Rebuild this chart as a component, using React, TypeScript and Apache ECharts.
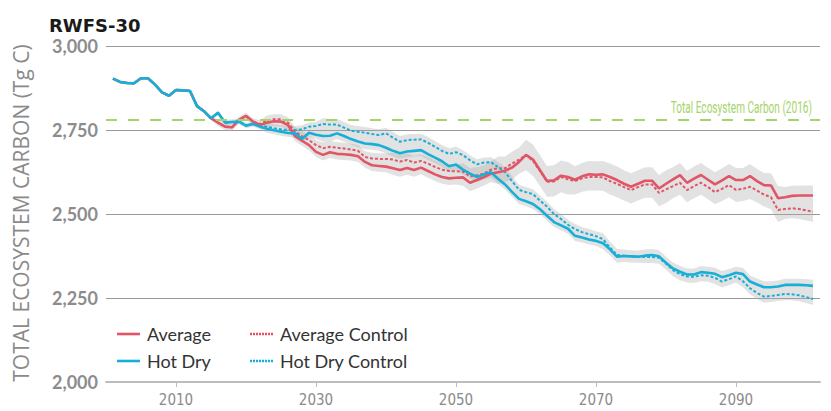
import React, { useEffect, useRef } from 'react';
import * as echarts from 'echarts';

// Years 2001 … 2101 (annual)
const years: number[] = Array.from({ length: 101 }, (_, i) => 2001 + i);

const yTicks = [2000, 2250, 2500, 2750, 3000];
const xTickLabels = [2010, 2030, 2050, 2070, 2090];
const referenceValue = 2780;
const referenceLabel = 'Total Ecosystem Carbon (2016)';

const hotDry = [
  2903, 2893, 2890, 2889, 2904, 2904, 2885, 2862, 2852, 2869,
  2868, 2866, 2821, 2806, 2785, 2801, 2772, 2774, 2775, 2763,
  2768, 2760, 2754, 2749, 2745, 2741, 2740, 2723, 2742, 2736,
  2732, 2733, 2740, 2732, 2723, 2716, 2710, 2708, 2705, 2697,
  2688, 2681, 2686, 2688, 2690, 2678, 2668, 2657, 2642, 2647,
  2632, 2620, 2610, 2618, 2624, 2605, 2588, 2566, 2545, 2538,
  2530, 2514, 2495, 2476, 2466, 2456, 2435, 2430, 2424, 2420,
  2413, 2395, 2373, 2375, 2374, 2373, 2376, 2378, 2374, 2355,
  2338, 2328, 2320, 2320, 2327, 2325, 2322, 2312, 2318, 2325,
  2321, 2299, 2290, 2282, 2282, 2284, 2289, 2289, 2289, 2288,
  2286,
];

const hotDryControl = [
  2903, 2893, 2890, 2889, 2904, 2904, 2885, 2862, 2852, 2869,
  2868, 2866, 2821, 2806, 2785, 2801, 2772, 2774, 2775, 2763,
  2768, 2762, 2760, 2755, 2752, 2750, 2750, 2752, 2760, 2762,
  2768, 2766, 2766, 2757, 2748, 2745, 2742, 2738, 2735, 2740,
  2727, 2715, 2720, 2721, 2722, 2712, 2700, 2688, 2679, 2684,
  2675, 2660, 2648, 2653, 2654, 2640, 2625, 2598, 2572, 2565,
  2559, 2540, 2522, 2500, 2485, 2468, 2455, 2446, 2440, 2434,
  2425, 2400, 2378, 2376, 2374, 2373, 2372, 2372, 2370, 2352,
  2333, 2321, 2314, 2313, 2318, 2316, 2310, 2299, 2306, 2314,
  2300, 2279, 2265, 2254, 2256, 2259, 2262, 2261, 2258, 2253,
  2247,
];

const average = [
  2903, 2893, 2890, 2889, 2904, 2904, 2885, 2862, 2852, 2869,
  2868, 2866, 2821, 2806, 2785, 2772, 2760, 2758, 2780, 2792,
  2775, 2765, 2772, 2776, 2775, 2765, 2732, 2718, 2705, 2685,
  2676, 2684, 2679, 2678, 2676, 2672, 2655, 2645, 2643, 2641,
  2636, 2631, 2637, 2631, 2638, 2628, 2618, 2610, 2606, 2608,
  2609, 2593, 2601, 2610, 2620, 2624, 2629, 2638, 2655, 2676,
  2662, 2630, 2598, 2600, 2614, 2610, 2602, 2612, 2618, 2617,
  2618, 2610, 2601, 2590, 2581, 2590, 2599, 2599, 2576, 2590,
  2603, 2616, 2593, 2605, 2616, 2602, 2588, 2600, 2613, 2601,
  2601, 2613, 2598, 2586, 2585, 2547, 2550, 2554, 2555, 2555,
  2555,
];

const averageControl = [
  2903, 2893, 2890, 2889, 2904, 2904, 2885, 2862, 2852, 2869,
  2868, 2866, 2821, 2806, 2785, 2772, 2760, 2758, 2780, 2792,
  2775, 2768, 2778, 2782, 2782, 2772, 2745, 2732, 2720, 2705,
  2696, 2700, 2697, 2695, 2692, 2688, 2670, 2665, 2664, 2664,
  2662, 2656, 2661, 2653, 2658, 2650, 2640, 2632, 2628, 2627,
  2626, 2612, 2615, 2620, 2632, 2636, 2636, 2650, 2662, 2675,
  2658, 2628, 2596, 2597, 2610, 2603, 2598, 2606, 2610, 2610,
  2609, 2598, 2590, 2580, 2571, 2580, 2588, 2588, 2563, 2573,
  2583, 2593, 2571, 2583, 2593, 2580, 2565, 2575, 2586, 2572,
  2575, 2581, 2570, 2558, 2550, 2512, 2515, 2517, 2515, 2511,
  2507,
];

// half-width of the grey uncertainty band beyond the pair of lines (Tg C)
const averageSpread = [
  4, 4, 4, 4, 4, 4, 4, 4, 4, 4,
  4, 4, 4, 4, 4, 10, 10, 10, 10, 10,
  10, 10, 15, 15, 15, 15, 15, 15, 15, 15,
  17, 17, 17, 17, 17, 17, 17, 17, 17, 17,
  20, 20, 20, 20, 20, 20, 20, 20, 20, 20,
  25, 25, 25, 25, 25, 35, 35, 35, 35, 45,
  45, 45, 45, 45, 45, 45, 40, 40, 40, 40,
  40, 40, 40, 40, 40, 40, 40, 40, 40, 40,
  36, 36, 36, 36, 36, 36, 36, 36, 36, 36,
  36, 36, 36, 36, 36, 36, 30, 30, 30, 30,
  30,
];

const hotDrySpread = [
  4, 4, 4, 4, 4, 4, 4, 4, 4, 4,
  4, 4, 4, 4, 4, 8, 8, 8, 8, 8,
  8, 8, 12, 12, 12, 12, 12, 12, 12, 12,
  17, 17, 17, 17, 17, 17, 17, 17, 17, 17,
  17, 17, 17, 17, 17, 17, 17, 17, 17, 17,
  15, 15, 15, 15, 15, 15, 15, 15, 15, 15,
  15, 15, 15, 15, 15, 15, 15, 15, 15, 15,
  18, 18, 18, 18, 18, 18, 18, 18, 18, 18,
  18, 18, 18, 18, 18, 18, 18, 18, 18, 18,
  18, 18, 18, 18, 18, 18, 18, 18, 18, 18,
  18,
];

const RED = '#e15566';
const BLUE = '#17afd8';
const GREEN = '#a5d46b';
const BAND = 'rgba(170,170,170,0.34)';

function pairs(vals: number[]) {
  return years.map((y, i) => [y, vals[i]]);
}

function bandSeries(name: string, a: number[], b: number[], spread: number[]) {
  const rows = years.map((y, i) => [
    y,
    Math.min(a[i], b[i]) - spread[i],
    Math.max(a[i], b[i]) + spread[i],
  ]);
  return {
    name,
    type: 'custom',
    silent: true,
    z: 1,
    data: rows,
    encode: { x: 0, y: [1, 2] },
    renderItem: (params: any, api: any) => {
      if (params.dataIndex !== 0) return null;
      const upper = rows.map((r) => api.coord([r[0], r[2]]));
      const lower = rows.map((r) => api.coord([r[0], r[1]])).reverse();
      return {
        type: 'polygon',
        shape: { points: upper.concat(lower) },
        style: { fill: BAND, stroke: 'none' },
      };
    },
  };
}

const solidIcon = 'path://M0,0H23V2.6H0Z';
let dotted = 'path://';
for (let k = 0; k < 8; k++) dotted += `M${k * 3},0h2v2.6h-2Z `;
const dottedIcon = dotted.trim();

export default function App() {
  const ref = useRef<HTMLDivElement>(null);
  useEffect(() => {
    const chart = echarts.init(ref.current!, null, { renderer: 'svg' });
    const legendText = {
      fontFamily: 'Lato',
      fontSize: 18,
      color: '#333',
      lineHeight: 18,
      padding: [0, 0, 0, 2],
    };
    const legendCommon = {
      orient: 'vertical',
      top: 320,
      itemWidth: 23,
      itemHeight: 2.6,
      itemGap: 9,
      textStyle: legendText,
    };
    const option: any = {
      animation: false,
      title: {
        text: 'RWFS-30',
        left: 44,
        top: 11,
        textStyle: { fontFamily: 'DejaVu Sans', fontWeight: 'bold', fontSize: 18, color: '#1a1a1a' },
      },
      grid: { left: 106, right: 11, top: 46, bottom: 29, containLabel: false },
      xAxis: {
        type: 'value',
        min: 2000,
        max: 2102,
        axisLine: { show: true, lineStyle: { color: '#bdbdbd', width: 2 } },
        axisTick: { show: true, customValues: xTickLabels, length: 5, lineStyle: { color: '#bdbdbd' } },
        axisLabel: {
          customValues: xTickLabels,
          margin: 10,
          fontFamily: "'DejaVu Sans Condensed', 'Liberation Sans Narrow', Roboto, sans-serif",
          fontSize: 15,
          color: '#8a8a8a',
          formatter: (v: number) => String(v),
        },
        splitLine: { show: false },
      },
      yAxis: {
        type: 'value',
        min: 2000,
        max: 3000,
        interval: 250,
        axisLine: { show: false },
        axisTick: { show: false },
        axisLabel: {
          margin: 8,
          fontFamily: 'Lato',
          fontWeight: 'bold',
          fontSize: 18,
          color: '#8c8c8c',
          formatter: (v: number) => (yTicks.includes(v) ? v.toLocaleString('en-US') : ''),
        },
        splitLine: { show: true, lineStyle: { color: '#9a9a9a', width: 1 } },
      },
      legend: [
        {
          ...legendCommon,
          left: 112,
          data: [
            { name: 'Average', icon: solidIcon },
            { name: 'Hot Dry', icon: solidIcon },
          ],
        },
        {
          ...legendCommon,
          left: 245,
          data: [
            { name: 'Average Control', icon: dottedIcon },
            { name: 'Hot Dry Control', icon: dottedIcon },
          ],
        },
      ],
      graphic: [
        {
          type: 'text',
          x: 21,
          y: 213,
          rotation: Math.PI / 2,
          style: {
            text: 'TOTAL ECOSYSTEM CARBON (Tg C)',
            fontFamily: 'Open Sans',
            fontSize: 21,
            fill: '#8a8a8a',
            textAlign: 'center',
            textVerticalAlign: 'middle',
          },
        },
        {
          type: 'text',
          x: 812,
          y: 108,
          scaleX: 0.63,
          style: {
            text: referenceLabel,
            fontFamily: 'Roboto',
            fontSize: 16,
            fill: GREEN,
            textAlign: 'right',
            textVerticalAlign: 'middle',
          },
        },
      ],
      series: [
        bandSeries('avgBand', average, averageControl, averageSpread),
        bandSeries('hotBand', hotDry, hotDryControl, hotDrySpread),
        {
          name: 'refLine',
          type: 'line',
          data: [],
          symbol: 'none',
          silent: true,
          markLine: {
            silent: true,
            symbol: 'none',
            label: { show: false },
            lineStyle: { color: GREEN, type: [11, 11], width: 2 },
            data: [{ yAxis: referenceValue }],
          },
          z: 2,
        },
        {
          name: 'Average Control',
          type: 'line',
          data: pairs(averageControl),
          symbol: 'none',
          lineStyle: { color: RED, width: 2, type: [3, 2] },
          itemStyle: { color: RED },
          z: 3,
        },
        {
          name: 'Hot Dry Control',
          type: 'line',
          data: pairs(hotDryControl),
          symbol: 'none',
          lineStyle: { color: BLUE, width: 2, type: [3, 2] },
          itemStyle: { color: BLUE },
          z: 3,
        },
        {
          name: 'Average',
          type: 'line',
          data: pairs(average),
          symbol: 'none',
          lineStyle: { color: RED, width: 2.6 },
          itemStyle: { color: RED },
          z: 4,
        },
        {
          name: 'Hot Dry',
          type: 'line',
          data: pairs(hotDry),
          symbol: 'none',
          lineStyle: { color: BLUE, width: 2.6 },
          itemStyle: { color: BLUE },
          z: 4,
        },
      ],
    };
    chart.setOption(option);
    return () => chart.dispose();
  }, []);
  return (
    <div
      ref={ref}
      style={{ position: 'absolute', left: 0, top: 0, width: 831, height: 411 }}
    />
  );
}
